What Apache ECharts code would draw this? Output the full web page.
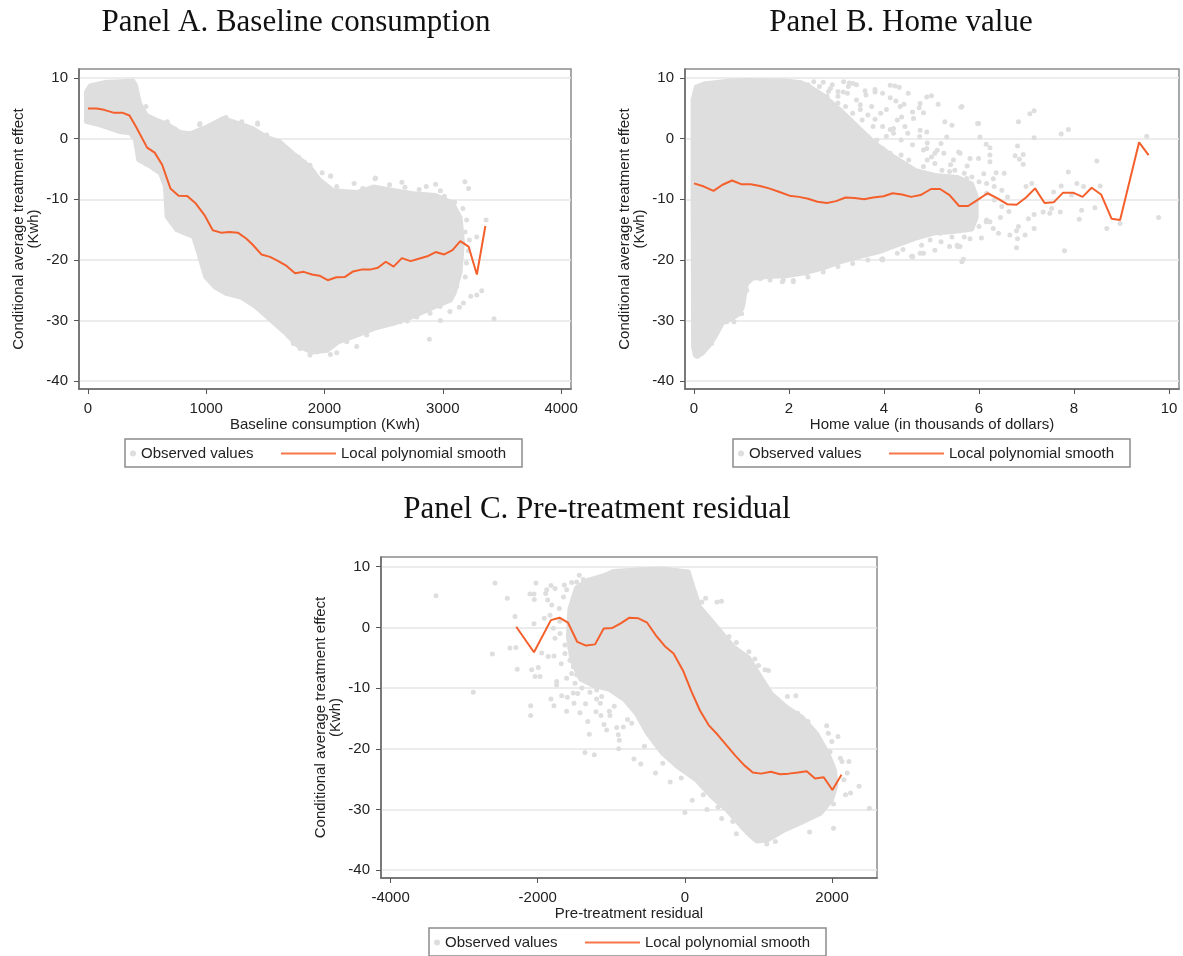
<!DOCTYPE html>
<html>
<head>
<meta charset="utf-8">
<script src="https://cdn.jsdelivr.net/npm/echarts@6/dist/echarts.min.js"></script>
<style>
  html, body { margin: 0; padding: 0; background: #ffffff; }
  #chart { width: 1183px; height: 956px; }
</style>
</head>
<body>
<div id="chart"></div>
<script>
// ---------------- tick labels ----------------
const yTicks = [-40, -30, -20, -10, 0, 10];
const xTicksA = [0, 1000, 2000, 3000, 4000];
const xTicksB = [0, 2, 4, 6, 8, 10];
const xTicksC = [-4000, -2000, 0, 2000];

// ---------------- Panel A: Baseline consumption ----------------
// local polynomial smooth
const smoothA = [[0,5.0],[73,5.0],[136,4.76],[215,4.3],[295,4.27],[351,3.83],[405,2.0],[500,-1.47],[564,-2.3],[627,-4.3],[697,-8.2],[766,-9.4],[839,-9.46],[912,-10.7],[985,-12.6],[1055,-15.1],[1124,-15.5],[1197,-15.4],[1267,-15.5],[1340,-16.5],[1393,-17.5],[1466,-19.1],[1539,-19.5],[1609,-20.2],[1679,-21.0],[1751,-22.2],[1824,-21.97],[1894,-22.4],[1957,-22.6],[2027,-23.35],[2100,-22.86],[2173,-22.8],[2242,-21.9],[2312,-21.6],[2385,-21.6],[2451,-21.3],[2518,-20.3],[2584,-21.1],[2654,-19.7],[2727,-20.2],[2797,-19.8],[2869,-19.4],[2939,-18.7],[3012,-19.1],[3082,-18.4],[3148,-16.9],[3218,-17.8],[3288,-22.4],[3360,-14.4]];
// outline of the dense cloud of observed values
const cloudA = [[-17,7.7],[17,8.8],[158,9.4],[383,9.55],[406,8.8],[440,5.8],[496,3.9],[581,3.1],[665,2.5],[778,1.1],[863,0.9],[1004,2.0],[1144,3.4],[1285,2.5],[1398,1.7],[1511,0.3],[1624,-0.5],[1736,-2.4],[1877,-4.6],[1962,-6.8],[2075,-8.5],[2272,-8.8],[2413,-7.9],[2590,-8.5],[2749,-9.0],[2939,-9.3],[3080,-10.5],[3150,-13.0],[3170,-17.0],[3150,-22.0],[3100,-25.5],[3066,-26.7],[2907,-28.0],[2749,-29.4],[2590,-30.5],[2432,-31.3],[2274,-32.5],[2116,-33.6],[2021,-35.0],[1894,-35.3],[1767,-34.1],[1672,-32.2],[1545,-30.0],[1419,-27.8],[1292,-26.2],[1166,-25.6],[1070,-24.5],[991,-22.8],[933,-18.9],[890,-16.2],[750,-15.1],[665,-12.9],[651,-7.9],[609,-5.7],[524,-4.6],[425,-3.5],[397,-0.2],[355,0.9],[271,1.1],[101,2.2],[-17,2.8]];
// scattered observed values outside the dense cloud
const dotsA = [[490,5.3],[671,2.8],[736,1.6],[947,2.5],[1088,2.4],[1167,3.5],[1300,2.8],[1435,2.4],[1511,0.6],[1615,-0.4],[1694,-1.9],[1779,-3.0],[1877,-4.4],[2052,-6.1],[2103,-7.9],[2323,-8.2],[2427,-6.6],[3366,-13.4],[3287,-16.2],[3225,-16.7],[3188,-15.4],[3202,-13.4],[3146,-13.7],[3089,-15.1],[3033,-15.6],[3047,-19.5],[3118,-19.75],[3104,-23.6],[3118,-24.4],[3047,-24.7],[3174,-27.1],[3236,-26.0],[3287,-25.8],[3329,-25.1],[3433,-29.7],[2886,-33.1],[2949,-26.6],[2977,-27.7],[2892,-28.8],[2780,-29.4],[2638,-30.2],[2469,-31.0],[2357,-32.4],[2272,-34.3],[2188,-33.5],[2103,-35.3],[1934,-35.2],[1877,-35.7],[1793,-34.6],[1736,-33.8],[3187,-7.1],[3218,-8.2],[2939,-7.5],[2860,-7.9],[2654,-7.2],[2432,-6.5],[2052,-6.2],[1434,2.6],[944,2.3],[3013,-9.5],[3100,-10.5],[3170,-11.5],[2980,-30.0],[3060,-28.5],[3140,-27.8],[2550,-7.6],[2250,-7.4],[3200,-20.5],[3190,-22.8],[3215,-18.5],[2800,-8.4],[2680,-8.0],[2980,-8.6],[1980,-5.6],[1560,-0.2],[1830,-3.9],[2700,-30.1],[2050,-35.6]];

// ---------------- Panel B: Home value ----------------
const smoothB = [[0,-7.37],[0.21,-7.9],[0.41,-8.6],[0.60,-7.6],[0.80,-6.9],[0.99,-7.5],[1.19,-7.5],[1.39,-7.8],[1.58,-8.2],[1.80,-8.8],[2.01,-9.4],[2.21,-9.6],[2.40,-9.9],[2.60,-10.4],[2.80,-10.6],[2.99,-10.3],[3.19,-9.7],[3.38,-9.8],[3.58,-10.0],[3.77,-9.7],[3.99,-9.5],[4.18,-9.0],[4.38,-9.2],[4.57,-9.6],[4.77,-9.3],[4.99,-8.3],[5.18,-8.3],[5.38,-9.3],[5.58,-11.1],[5.77,-11.1],[5.97,-10.1],[6.18,-9.0],[6.38,-9.8],[6.59,-10.8],[6.79,-10.9],[6.99,-9.7],[7.18,-8.2],[7.38,-10.6],[7.57,-10.5],[7.77,-8.9],[7.98,-8.9],[8.18,-9.6],[8.37,-8.1],[8.57,-9.2],[8.79,-13.2],[8.97,-13.4],[9.37,-0.6],[9.57,-2.7]];
const cloudB = [[-0.03,6.4],[0.04,8.6],[0.21,9.1],[0.76,9.6],[1.15,9.7],[1.54,9.6],[1.93,9.6],[2.25,9.3],[2.4,8.8],[2.72,7.2],[3.11,4.6],[3.5,1.6],[3.81,-0.7],[4.2,-2.9],[4.67,-5.2],[5.07,-6.0],[5.54,-6.3],[5.85,-7.4],[5.95,-9.5],[5.95,-13.0],[5.85,-15.0],[5.46,-15.4],[5.07,-15.6],[4.67,-16.5],[4.28,-17.6],[3.9,-18.7],[3.5,-19.5],[3.11,-20.3],[2.72,-21.4],[2.33,-22.2],[1.93,-22.7],[1.54,-22.8],[1.23,-23.1],[1.11,-24.0],[1.03,-27.8],[0.96,-28.9],[0.8,-29.7],[0.6,-30.5],[0.45,-32.7],[0.33,-34.1],[0.17,-35.5],[0.07,-36.0],[0.02,-35.8],[-0.02,-34.4],[-0.03,-9.0]];
const dotsB = [[4.13,8.8],[4.23,8.7],[4.32,8.5],[4.51,7.5],[4.13,6.75],[4.42,5.7],[5.0,7.1],[4.9,6.9],[5.14,5.7],[4.74,5.1],[5.62,5.2],[4.83,4.3],[7.16,4.6],[7.07,4.1],[6.83,2.8],[5.99,2.5],[5.43,2.2],[7.88,1.5],[7.73,0.76],[7.16,0.15],[9.53,0.4],[6.81,-1.2],[6.93,-2.6],[6.76,-2.8],[6.85,-3.4],[6.93,-4.2],[6.23,-1.5],[6.15,-0.9],[6.23,-2.7],[6.23,-3.8],[6.02,0.3],[5.6,-2.4],[5.81,-3.25],[5.99,-3.25],[8.48,-3.7],[7.88,-5.5],[6.36,-5.6],[6.53,-5.7],[7.11,-7.4],[6.99,-7.9],[7.73,-7.8],[7.57,-8.8],[8.06,-7.4],[8.2,-7.9],[7.95,-9.3],[8.55,-7.8],[8.44,-11.4],[8.16,-11.8],[8.11,-13.3],[7.71,-12.1],[7.53,-11.5],[7.49,-12.3],[7.35,-12.1],[7.16,-12.5],[7.04,-13.2],[7.16,-14.8],[6.83,-14.5],[6.79,-15.2],[6.97,-15.9],[6.81,-16.5],[6.79,-18.0],[8.69,-14.8],[8.97,-14.0],[9.78,-13.0],[7.8,-18.5],[6.65,-15.9],[6.41,-15.6],[6.23,-13.7],[6.15,-13.7],[5.81,-16.5],[5.6,-17.8],[5.55,-17.8],[5.64,-20.3],[5.67,-19.9],[5.43,-16.2],[5.18,-15.6],[4.97,-16.7],[4.79,-17.6],[4.6,-19.4],[3.97,-20.0],[3.35,9.1],[3.25,8.6],[3.14,7.7],[3.6,7.9],[3.81,7.7],[4.76,5.8],[5.64,5.3],[4.34,5.3],[4.37,3.6],[4.62,3.35],[4.2,1.7],[4.76,1.4],[4.9,1.1],[5.28,2.8],[5.97,2.5],[5.32,0.3],[4.9,-1.6],[5.12,-1.9],[5.26,-2.4],[5.57,-2.2],[5.46,-3.5],[5.49,-5.2],[5.74,-6.55],[4.76,-18.9],[4.58,-19.4],[3.95,-19.9],[3.78,-18.1],[3.64,-18.1],[3.43,-17.6],[3.14,-20.0],[3.0,-19.75],[2.58,-21.4],[2.37,-22.2],[2.09,-23.6],[1.88,-23.3],[1.6,-23.3],[1.46,-22.8],[0.81,-29.8],[0.69,-30.2],[0.37,-33.8],[2.25,9.2],[2.4,8.9],[2.64,8.6],[2.87,8.3],[3.03,7.8],[3.27,9.2],[3.42,8.9],[2.56,7.5],[2.8,7.0],[3.03,5.9],[3.19,5.3],[3.5,4.8],[3.66,3.9],[3.34,2.6],[3.81,3.2],[3.97,2.0],[4.13,1.5],[3.66,0.35],[3.85,-0.2],[3.97,-1.6],[4.13,-2.4],[4.36,-2.7],[4.52,-3.5],[4.83,-4.6],[4.91,-3.5],[5.07,-4.1],[5.22,-5.2],[5.38,-5.4],[5.69,-5.7],[5.85,-6.3],[6.0,-7.1],[6.16,-7.4],[6.32,-7.9],[6.48,-8.5],[6.16,-9.0],[6.32,-10.1],[6.48,-11.2],[6.63,-12.0],[6.16,-13.4],[6.0,-14.5],[5.85,-14.8],[5.69,-16.2],[5.54,-17.6],[5.38,-17.8],[5.07,-18.4],[4.83,-18.9],[4.6,-19.5],[4.28,-18.9],[3.97,-19.8],[3.66,-20.0],[3.34,-20.6],[3.03,-21.1],[2.72,-22.0],[2.4,-22.8],[2.09,-23.4],[1.86,-23.6],[1.39,-23.1],[1.23,-22.8],[1.11,-25.0],[1.0,-28.9],[0.84,-30.2],[2.52,9.4],[2.72,9.3],[2.91,8.9],[3.15,9.4],[2.83,7.8],[3.03,7.0],[3.23,7.5],[3.42,6.4],[3.62,7.2],[3.81,8.1],[3.97,7.5],[3.5,5.6],[3.74,5.3],[3.93,4.2],[3.34,4.2],[3.54,3.1],[3.77,2.0],[4.2,0.9],[4.36,-0.2],[4.6,-1.0],[4.83,-1.85],[5.07,-2.4],[4.75,0.35],[4.91,-0.7],[4.28,3.1],[4.44,2.0],[4.05,4.8],[4.25,6.2],[4.6,4.4],[4.05,0.4],[4.5,0.9],[5.2,-0.8],[5.0,-3.0],[5.4,-4.3],[5.75,-4.5],[6.1,-5.8],[6.3,-6.6],[6.6,-9.6],[6.45,-13.0],[6.3,-14.8],[6.05,-16.4],[5.2,-17.0],[4.4,-18.3]];

// ---------------- Panel C: Pre-treatment residual ----------------
const smoothC = [[-2292,0.11],[-2051,-4.1],[-1821,1.2],[-1703,1.6],[-1590,0.8],[-1462,-2.4],[-1344,-3.0],[-1221,-2.8],[-1103,-0.2],[-985,-0.1],[-872,0.66],[-754,1.6],[-631,1.5],[-513,0.77],[-395,-1.3],[-272,-3.1],[-154,-4.3],[-26,-7.1],[87,-10.5],[205,-13.7],[323,-16.1],[446,-17.7],[564,-19.4],[682,-21.1],[805,-22.7],[923,-23.9],[1036,-24.1],[1169,-23.8],[1292,-24.2],[1410,-24.1],[1538,-23.9],[1656,-23.7],[1769,-24.9],[1887,-24.7],[2005,-26.8],[2128,-24.3]];
const cloudC = [[-1330,7.8],[-1100,8.6],[-974,9.3],[-615,9.6],[-308,9.7],[51,9.2],[128,6.2],[205,3.4],[359,1.2],[513,-1.0],[667,-3.2],[872,-5.0],[1026,-8.0],[1179,-10.9],[1385,-13.1],[1590,-14.7],[1795,-17.5],[1949,-20.8],[2040,-23.5],[2060,-26.0],[2000,-28.4],[1846,-30.7],[1590,-32.2],[1333,-33.6],[1128,-35.1],[980,-35.3],[900,-34.5],[769,-32.9],[564,-30.1],[359,-27.9],[154,-25.2],[-103,-23.0],[-308,-20.8],[-513,-17.5],[-667,-14.2],[-821,-12.0],[-1026,-10.3],[-1250,-9.6],[-1420,-8.6],[-1540,-5.5],[-1590,-1.5],[-1570,3.0],[-1480,6.5]];
const dotsC = [[-3383,5.2],[-2581,7.3],[-2414,4.8],[-2024,7.3],[-2105,5.5],[-2051,5.5],[-2047,4.6],[-1820,6.9],[-1765,6.4],[-1878,6.2],[-1892,5.6],[-1865,4.5],[-1810,3.7],[-1833,2.0],[-1639,7.0],[-1539,7.4],[-1607,6.2],[-1471,7.5],[-1435,8.6],[-1381,7.9],[-1313,7.5],[-1507,4.1],[-1426,3.4],[-1381,4.6],[-1313,4.8],[-1707,3.1],[-2309,1.8],[-2051,0.6],[-1911,1.5],[-1788,-0.15],[-1765,-1.8],[-1697,-1.0],[-2377,-3.4],[-2295,-3.3],[-2617,-4.4],[-1946,-4.2],[-1857,-4.8],[-1779,-4.7],[-1630,-2.9],[-1562,-3.4],[-1630,-4.3],[-1562,-5.4],[-1517,-6.5],[-1539,-7.6],[-1607,-8.4],[-1471,-7.8],[-1494,-9.2],[-2278,-6.9],[-2082,-7.0],[-1992,-6.6],[-2037,-8.1],[-1969,-8.1],[-1743,-8.9],[-1743,-9.5],[-1517,-10.8],[-1457,-10.9],[-1820,-11.8],[-1674,-11.25],[-1598,-11.5],[-2876,-10.7],[-2096,-12.9],[-2096,-14.5],[-1779,-12.9],[-1507,-12.5],[-1607,-13.8],[-1426,-14.05],[-1290,-10.7],[-1199,-10.3],[-1131,-11.4],[-1208,-13.9],[-1140,-14.5],[-1027,-13.8],[-1018,-14.5],[-1063,-16.9],[-927,-16.5],[-837,-16.4],[-905,-17.7],[-891,-18.6],[-1299,-17.6],[-1358,-20.6],[-1231,-21.0],[-692,-21.7],[-723,-15.8],[1090,-7.0],[1136,-7.1],[1393,-11.4],[1508,-11.25],[1161,-12.2],[1300,-12.5],[1532,-14.15],[1672,-15.5],[1741,-16.9],[1927,-16.2],[2081,-18.0],[1950,-17.45],[1997,-18.8],[1857,-19.4],[1973,-20.5],[2112,-21.55],[2135,-22.1],[2229,-22.1],[2206,-24.0],[2160,-25.1],[2368,-26.2],[2251,-27.3],[2183,-27.6],[2508,-29.8],[2020,-29.1],[2020,-33.1],[1695,-33.7],[1624,-31.0],[1718,-31.2],[1230,-35.3],[1113,-35.7],[436,4.2],[497,4.3],[282,4.8],[231,4.2],[600,-1.5],[700,-2.5],[870,-4.0],[950,-5.2],[1000,-6.3],[-1700,1.0],[-1680,-6.0],[-1650,5.0],[-1400,-10.0],[-1250,-9.5],[-1150,-12.5],[-1320,-15.5],[-1100,-16.0],[-900,-20.0],[-600,-22.5],[-400,-24.0],[-200,-25.5],[100,-28.5],[0,-30.5],[300,-30.0],[500,-31.5],[700,-34.0],[-1200,-11.8],[-1350,-12.6],[-960,-13.0],[-780,-15.2],[-550,-19.6],[-300,-22.4],[-50,-24.8],[250,-27.6],[450,-29.6],[650,-32.0],[850,-33.8]];

// ---------------- styling ----------------
const CLOUD = '#dedede';
const LINE = '#f4602c';
const SANS = '"Liberation Sans", Arial, sans-serif';
const SERIF = '"Liberation Serif", "Times New Roman", serif';
const TXT = '#222222';

const grids = [
  { left: 79, top: 69, width: 492, height: 320 },
  { left: 685, top: 69, width: 494, height: 320 },
  { left: 381, top: 557, width: 496, height: 321 }
].map(g => Object.assign({ show: true, borderColor: '#8c8c8c', borderWidth: 1.5, backgroundColor: '#ffffff' }, g));

const plain = v => String(v);

function xAxisFor(gi, min, max, ticks, name) {
  return {
    gridIndex: gi, type: 'value', min: min, max: max,
    axisLine: { show: true, onZero: false, lineStyle: { color: '#6a6a6a', width: 1.5 } },
    axisTick: { show: true, customValues: ticks, length: 5, lineStyle: { color: '#555', width: 1 } },
    axisLabel: { customValues: ticks, formatter: plain, fontSize: 15, color: TXT, fontFamily: SANS, margin: 12 },
    splitLine: { show: false },
    name: name, nameLocation: 'middle', nameGap: 26,
    nameTextStyle: { fontSize: 15, color: TXT, fontFamily: SANS }
  };
}
function yAxisFor(gi, min, max) {
  return {
    gridIndex: gi, type: 'value', min: min, max: max,
    axisLine: { show: true, onZero: false, lineStyle: { color: '#6a6a6a', width: 1.5 } },
    axisTick: { show: true, customValues: yTicks, length: 5, lineStyle: { color: '#555', width: 1 } },
    axisLabel: { customValues: yTicks, formatter: plain, fontSize: 15, color: TXT, fontFamily: SANS, margin: 11 },
    splitLine: { show: true, lineStyle: { color: '#e6e6e6', width: 1.5 } },
    name: 'Conditional average treatment effect\n(Kwh)', nameLocation: 'middle', nameGap: 38,
    nameTextStyle: { fontSize: 15, color: TXT, fontFamily: SANS, lineHeight: 15 }
  };
}

function cloudSeries(outline, gi) {
  return {
    type: 'custom', name: 'Observed values', xAxisIndex: gi, yAxisIndex: gi,
    data: [outline[0]], silent: true, z: 1, clip: true,
    itemStyle: { color: CLOUD },
    renderItem: function (params, api) {
      const pts = outline.map(p => api.coord(p));
      return { type: 'polygon', shape: { points: pts },
        style: { fill: CLOUD, stroke: CLOUD, lineWidth: 4, lineJoin: 'round' } };
    }
  };
}
function dotSeries(dots, gi) {
  return {
    type: 'scatter', name: 'Observed values', xAxisIndex: gi, yAxisIndex: gi,
    data: dots, symbol: 'circle', symbolSize: 5, silent: true, z: 2,
    itemStyle: { color: CLOUD, opacity: 1 }
  };
}
function smoothSeries(pts, gi) {
  return {
    type: 'line', name: 'Local polynomial smooth', xAxisIndex: gi, yAxisIndex: gi,
    data: pts, symbol: 'none', showSymbol: false, z: 3, silent: true,
    lineStyle: { color: LINE, width: 2 }, itemStyle: { color: LINE }
  };
}

function legendsFor(left, top) {
  const ts = { fontSize: 15, color: TXT, fontFamily: SANS };
  return [
    { data: [{ name: 'Observed values', icon: 'circle' }], left: left + 5, top: top + 7,
      itemWidth: 6, itemHeight: 6, padding: 0, selectedMode: false, textStyle: ts },
    { data: [{ name: 'Local polynomial smooth', icon: 'rect', itemStyle: { color: '#f7764a' } }],
      left: left + 156, top: top + 7,
      itemWidth: 55, itemHeight: 2, padding: 0, selectedMode: false, textStyle: ts }
  ];
}
const legendBoxes = [[125, 439], [733, 439], [429, 928]];

const option = {
  backgroundColor: '#ffffff',
  animation: false,
  title: [
    { text: 'Panel A. Baseline consumption', left: 291, textAlign: 'center', top: 2,
      textStyle: { fontFamily: SERIF, fontSize: 31, fontWeight: 'normal', color: '#111' } },
    { text: 'Panel B. Home value', left: 896, textAlign: 'center', top: 2,
      textStyle: { fontFamily: SERIF, fontSize: 31, fontWeight: 'normal', color: '#111' } },
    { text: 'Panel C. Pre-treatment residual', left: 592, textAlign: 'center', top: 489,
      textStyle: { fontFamily: SERIF, fontSize: 31, fontWeight: 'normal', color: '#111' } }
  ],
  grid: grids,
  xAxis: [
    xAxisFor(0, -76, 4084, xTicksA, 'Baseline consumption (Kwh)'),
    xAxisFor(1, -0.19, 10.21, xTicksB, 'Home value (in thousands of dollars)'),
    xAxisFor(2, -4130, 2611, xTicksC, 'Pre-treatment residual')
  ],
  yAxis: [
    yAxisFor(0, -41.3, 11.5),
    yAxisFor(1, -41.3, 11.5),
    yAxisFor(2, -41.3, 11.6)
  ],
  legend: [].concat(...legendBoxes.map(b => legendsFor(b[0], b[1]))),
  graphic: legendBoxes.map(b => ({
    type: 'rect', shape: { x: b[0], y: b[1], width: 397, height: 28 },
    style: { fill: 'none', stroke: '#8c8c8c', lineWidth: 1.5 }, silent: true
  })),
  series: [
    cloudSeries(cloudA, 0), dotSeries(dotsA, 0), smoothSeries(smoothA, 0),
    cloudSeries(cloudB, 1), dotSeries(dotsB, 1), smoothSeries(smoothB, 1),
    cloudSeries(cloudC, 2), dotSeries(dotsC, 2), smoothSeries(smoothC, 2)
  ]
};

const chart = echarts.init(document.getElementById('chart'), null, { renderer: 'canvas' });
chart.setOption(option);
</script>
</body>
</html>
